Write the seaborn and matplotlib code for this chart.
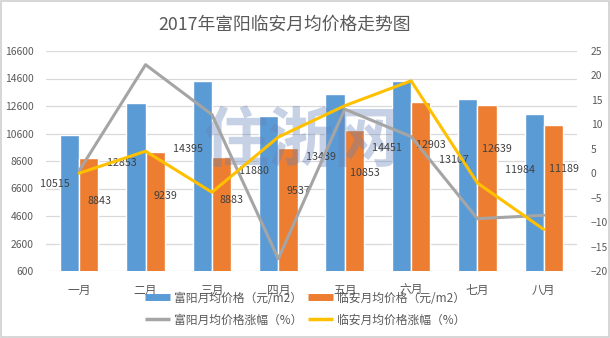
import numpy as np
import pandas as pd
import matplotlib
matplotlib.use("Agg")
import matplotlib.pyplot as plt
from matplotlib.lines import Line2D
import seaborn as sns

months = ["一月", "二月", "三月", "四月", "五月", "六月", "七月", "八月"]
fuyang_price = [10515, 12853, 14395, 11880, 13439, 14451, 13107, 11984]
linan_price = [8843, 9239, 8883, 9537, 10853, 12903, 12639, 11189]
fuyang_change = [0.5, 22.2, 12.0, -17.5, 13.1, 7.5, -9.3, -8.6]
linan_change = [0.0, 4.5, -3.9, 7.4, 13.8, 18.9, -2.0, -11.5]

s_fy = "富阳月均价格（元/m2）"
s_la = "临安月均价格（元/m2）"
s_fyc = "富阳月均价格涨幅（%）"
s_lac = "临安月均价格涨幅（%）"
title = "2017年富阳临安月均价格走势图"

BLUE, ORANGE, GRAY, YELLOW = "#5b9bd5", "#ed7d31", "#a5a5a5", "#ffc000"
TXT = "#595959"
GRID = "#d9d9d9"

sns.set_theme(style="white")
plt.rcParams["font.family"] = ["Noto Sans CJK SC", "DejaVu Sans"]

df = pd.DataFrame({
    "month": months * 2,
    "price": fuyang_price + linan_price,
    "city": [s_fy] * len(months) + [s_la] * len(months),
})

fig = plt.figure(figsize=(6.1, 3.38), dpi=100)
ax = fig.add_axes([46 / 610, 1 - 271 / 338, (577 - 46) / 610, (271 - 51) / 338])

sns.barplot(data=df, x="month", y="price", hue="city", palette=[BLUE, ORANGE],
            width=0.58, gap=0, ax=ax, legend=False, saturation=1, zorder=2)
ax.set_ylim(600, 16600)
ax.set_yticks(np.arange(600, 16601, 2000))
ax.set_xlim(-0.5, len(months) - 0.5)
ax.grid(axis="y", color=GRID, linewidth=0.9, zorder=0)
ax.set_axisbelow(True)
for sp in ax.spines.values():
    sp.set_visible(False)
ax.set_xlabel("")
ax.set_ylabel("")
ax.tick_params(axis="y", length=0, labelsize=7.4, labelcolor=TXT, pad=9)
ax.tick_params(axis="x", length=0, labelsize=8.5, labelcolor=TXT, pad=9)

# data labels
xpos = np.arange(len(months))
for i, (a, b) in enumerate(zip(fuyang_price, linan_price)):
    ax.text(i - 0.36, a * 0.66, str(a), ha="center", va="center",
            fontsize=7.7, color="#404040", zorder=5)
    ax.text(i + 0.30, b - 3150, str(b), ha="center", va="center",
            fontsize=7.7, color="#404040", zorder=5)

# watermark
ax.text(3.35, 10000, "住浙网", ha="center", va="center", fontsize=47,
        fontweight="bold", color="#6480b8", alpha=0.36, zorder=4)

ax2 = ax.twinx()
sns.lineplot(x=xpos, y=fuyang_change, ax=ax2, color=GRAY, linewidth=2.2)
sns.lineplot(x=xpos, y=linan_change, ax=ax2, color=YELLOW, linewidth=2.2)
ax2.set_ylim(-20, 25)
ax2.set_yticks(np.arange(-20, 26, 5))
ax2.set_xlim(-0.5, len(months) - 0.5)
for sp in ax2.spines.values():
    sp.set_visible(False)
ax2.grid(False)
ax2.tick_params(axis="y", length=0, labelsize=7.4, labelcolor=TXT, pad=10)

fig.text(285 / 610, 1 - 25 / 338, title, ha="center", va="center", fontsize=12.8, color=TXT)

handles = [
    Line2D([], [], color=BLUE, linewidth=5, solid_capstyle="butt"),
    Line2D([], [], color=GRAY, linewidth=2.5, solid_capstyle="butt"),
    Line2D([], [], color=ORANGE, linewidth=5, solid_capstyle="butt"),
    Line2D([], [], color=YELLOW, linewidth=2.5, solid_capstyle="butt"),
]
labels = [s_fy, s_fyc, s_la, s_lac]
leg = fig.legend(handles, labels, loc="center", bbox_to_anchor=(0.5, 1 - 309 / 338),
                 ncol=2, frameon=False, fontsize=8.5, handlelength=2.1,
                 handletextpad=0.35, columnspacing=0.5, labelspacing=0.75)
for t in leg.get_texts():
    t.set_color(TXT)

fig.patches.append(plt.Rectangle((0.0015, 0.002), 0.997, 0.995, transform=fig.transFigure,
                                 fill=False, edgecolor="#d0d0d0", linewidth=1.2))

fig.savefig("out.png", dpi=100)
